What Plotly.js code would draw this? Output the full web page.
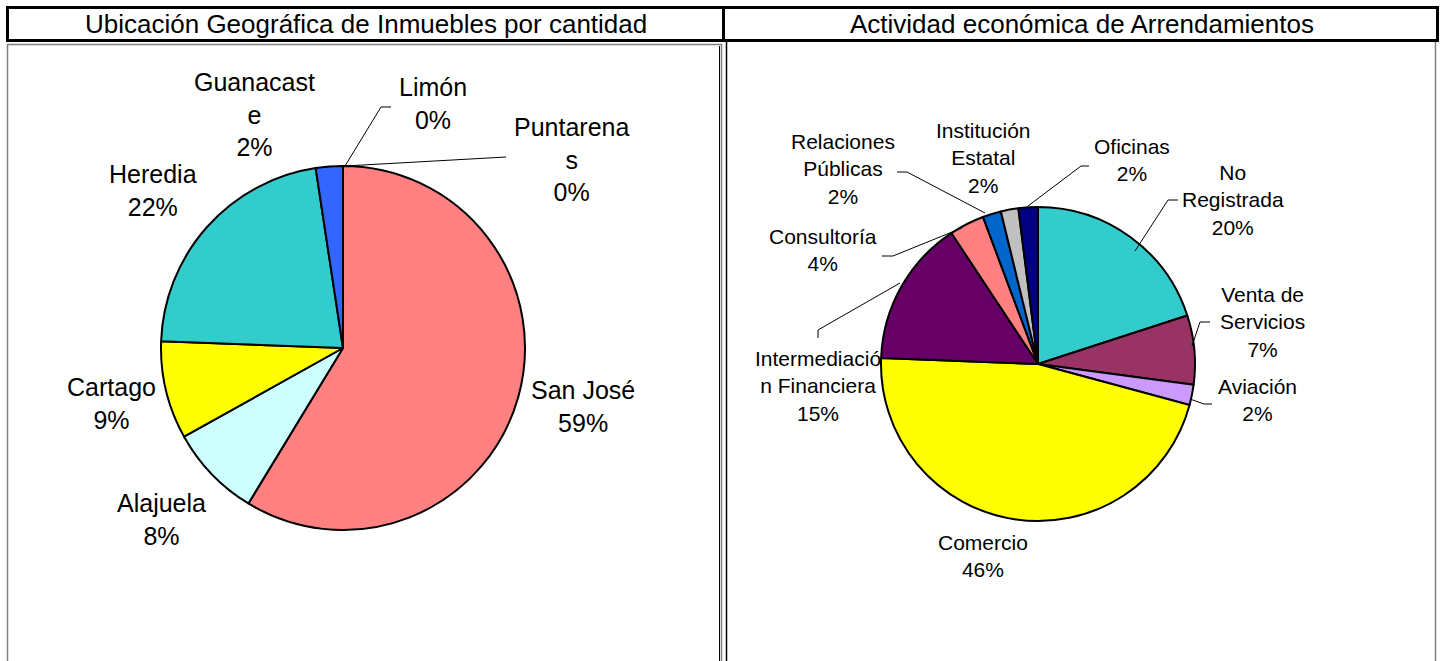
<!DOCTYPE html>
<html>
<head>
<meta charset="utf-8">
<script src="https://cdn.plot.ly/plotly-3.0.1.min.js"></script>
<style>html,body{margin:0;padding:0;background:#fff;}#chart{width:1444px;height:661px;}</style>
</head>
<body>
<div id="chart"></div>
<script>
// ---- Data ----
var geoTitle = 'Ubicación Geográfica de Inmuebles por cantidad';
var geoCategories = ['San José', 'Alajuela', 'Cartago', 'Heredia', 'Guanacaste', 'Limón', 'Puntarenas'];
var geoDisplay = ['San José', 'Alajuela', 'Cartago', 'Heredia', 'Guanacast<br>e', 'Limón', 'Puntarena<br>s'];
var geoValues = [58.7, 8.2, 8.7, 22.0, 2.4, 0, 0];
var geoColors = ['#FF8080', '#CCFFFF', '#FFFF00', '#33CCCC', '#3366FF', '#000080', '#FF00FF'];

var actTitle = 'Actividad económica de Arrendamientos';
var actCategories = ['No Registrada', 'Venta de Servicios', 'Aviación', 'Comercio', 'Intermediación Financiera', 'Consultoría', 'Relaciones Públicas', 'Institución Estatal', 'Oficinas'];
var actDisplay = ['No<br>Registrada', 'Venta de<br>Servicios', 'Aviación', 'Comercio', 'Intermediació<br>n Financiera', 'Consultoría', 'Relaciones<br>Públicas', 'Institución<br>Estatal', 'Oficinas'];
var actValues = [20.0, 7.1, 2.1, 46.4, 15.1, 3.6, 1.9, 1.8, 2.0];
var actColors = ['#33CCCC', '#993366', '#CC99FF', '#FFFF00', '#660066', '#FF8080', '#0066CC', '#C0C0C0', '#000080'];

// ---- Layout helpers (pixel -> paper) ----
var W = 1444, H = 661;
function px(x) { return x / W; }
function py(y) { return 1 - y / H; }
function pathOf(pts) {
  return pts.map(function (p, i) { return (i ? 'L' : 'M') + px(p[0]) + ',' + py(p[1]); }).join(' ');
}
function pct(values, i) {
  var s = values.reduce(function (a, b) { return a + b; }, 0);
  return Math.round(values[i] / s * 100) + '%';
}

var FONT = 'Liberation Sans, Arial, sans-serif';

var traces = [
  {
    type: 'pie', labels: geoCategories, values: geoValues, sort: false, direction: 'clockwise', rotation: 0,
    marker: { colors: geoColors, line: { color: '#000', width: 2 } },
    textinfo: 'none', showlegend: false,
    domain: { x: [px(161), px(525)], y: [py(530), py(166)] }
  },
  {
    type: 'pie', labels: actCategories, values: actValues, sort: false, direction: 'clockwise', rotation: 0,
    marker: { colors: actColors, line: { color: '#000', width: 2 } },
    textinfo: 'none', showlegend: false,
    domain: { x: [px(881), px(1195)], y: [py(521), py(207)] }
  }
];

// label anchor positions (pixel centres) for each category
var geoLabelPos = [[583, 406], [161, 519], [112, 403], [153, 191], [254, 114], [433, 104], [571, 159]];
var actLabelPos = [[1233, 200], [1262, 322], [1257, 400], [983, 556], [818, 386], [823, 250], [843, 169], [983, 158], [1132, 160]];

function ann(text, x, y, size) {
  return {
    text: text, x: px(x), y: py(y), xref: 'paper', yref: 'paper', showarrow: false,
    xanchor: 'center', yanchor: 'middle', align: 'center',
    font: { family: FONT, size: size, color: '#000' }
  };
}

var annotations = [ann(geoTitle, 366, 24, 26), ann(actTitle, 1082, 24, 26)];
geoCategories.forEach(function (c, i) {
  annotations.push(ann(geoDisplay[i] + '<br>' + pct(geoValues, i), geoLabelPos[i][0], geoLabelPos[i][1], 25));
});
actCategories.forEach(function (c, i) {
  annotations.push(ann(actDisplay[i] + '<br>' + pct(actValues, i), actLabelPos[i][0], actLabelPos[i][1], 21));
});

var leaders = [
  [[345, 166], [381, 107], [391, 107]],
  [[345, 166], [506, 157]],
  [[897, 172], [907, 172], [985, 213]],
  [[1028, 206], [1081, 166], [1089, 166]],
  [[1135, 251], [1168, 200], [1178, 200]],
  [[1192, 346], [1200, 322], [1210, 322]],
  [[1190, 399], [1204, 404], [1212, 404]],
  [[818, 338], [818, 330], [900, 283]],
  [[882, 256], [893, 256], [962, 228]]
];

var shapes = [
  // header box
  { type: 'rect', xref: 'paper', yref: 'paper', x0: px(7.5), x1: px(1437.5), y0: py(7.5), y1: py(40.5), line: { color: '#000', width: 3 } },
  { type: 'line', xref: 'paper', yref: 'paper', x0: px(723.5), x1: px(723.5), y0: py(7.5), y1: py(40.5), line: { color: '#000', width: 3 } },
  // left chart frame
  { type: 'path', xref: 'paper', yref: 'paper', path: pathOf([[7.5, 661], [7.5, 44.5], [721.5, 44.5], [721.5, 661]]), line: { color: '#808080', width: 1.5 } },
  { type: 'line', xref: 'paper', yref: 'paper', x0: px(719.5), x1: px(719.5), y0: py(46), y1: py(661), line: { color: '#000', width: 1 } },
  // right chart frame
  { type: 'line', xref: 'paper', yref: 'paper', x0: px(726.5), x1: px(726.5), y0: py(42), y1: py(661), line: { color: '#000', width: 1.5 } },
  { type: 'line', xref: 'paper', yref: 'paper', x0: px(1435.5), x1: px(1435.5), y0: py(42), y1: py(661), line: { color: '#808080', width: 1.5 } }
];
leaders.forEach(function (pts) {
  shapes.push({ type: 'path', xref: 'paper', yref: 'paper', path: pathOf(pts), line: { color: '#000', width: 1 } });
});

var layout = {
  width: W, height: H,
  margin: { l: 0, r: 0, t: 0, b: 0 },
  paper_bgcolor: '#fff', plot_bgcolor: '#fff',
  showlegend: false,
  annotations: annotations,
  shapes: shapes,
  font: { family: FONT }
};

Plotly.newPlot('chart', traces, layout, { displayModeBar: false, staticPlot: true });
</script>
</body>
</html>
